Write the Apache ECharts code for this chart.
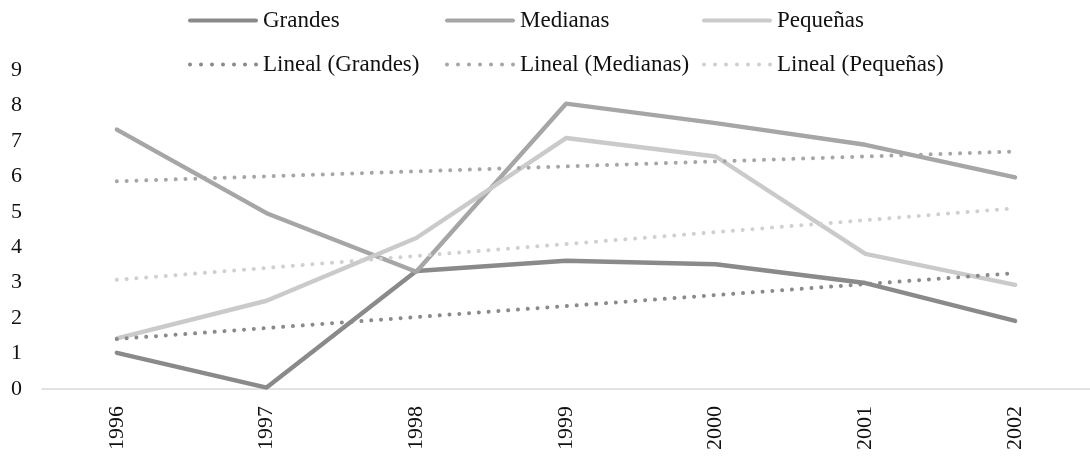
<!DOCTYPE html>
<html>
<head>
<meta charset="utf-8">
<script src="https://cdn.jsdelivr.net/npm/echarts@6/dist/echarts.min.js"></script>
<style>
  html, body { margin: 0; padding: 0; background: #ffffff; }
  #chart { width: 1090px; height: 457px; }
</style>
</head>
<body>
<div id="chart"></div>
<script>
// Years on the category axis
const years = ['1996', '1997', '1998', '1999', '2000', '2001', '2002'];
// Values per company size
const grandes  = [1.02, 0.04, 3.33, 3.62, 3.52, 2.99, 1.92];
const medianas = [7.32, 4.96, 3.31, 8.05, 7.50, 6.89, 5.97];
const pequenas = [1.43, 2.49, 4.26, 7.08, 6.56, 3.81, 2.94];
// Linear trend lines: value at the first and at the last year
const trendYears = ['1996', '2002'];
const trendGrandes  = [1.41, 3.27];
const trendMedianas = [5.86, 6.70];
const trendPequenas = [3.08, 5.10];
// Y axis ticks
const yTicks = [0, 1, 2, 3, 4, 5, 6, 7, 8, 9];

const FONT = '"Liberation Serif", "Times New Roman", serif';
const C_G = '#8a8a8a', C_M = '#a6a6a6', C_P = '#cacaca', C_PT = '#d0d0d0';

// Legend glyphs: a rounded bar for the data lines, a row of dots for the trend lines
const ICON_SOLID = 'path://M2,0 L68,0 A2,2 0 0 1 68,4 L2,4 A2,2 0 0 1 2,0 Z';
const ICON_DOTS = 'path://' + [0, 11, 22, 33, 44, 55, 66]
  .map(x => `M${x},2 a2,2 0 1,0 4,0 a2,2 0 1,0 -4,0 Z`).join(' ');

function solid(name, data, color) {
  return {
    name, type: 'line', data, symbol: 'none', z: 2,
    lineStyle: { color, width: 4.4, cap: 'round', join: 'round' },
    itemStyle: { color }
  };
}
function trend(name, vals, color) {
  return {
    name, type: 'line', symbol: 'none', z: 3,
    data: trendYears.map((y, i) => [y, vals[i]]),
    lineStyle: { color, width: 4, type: [0.01, 9.8], cap: 'round' },
    itemStyle: { color }
  };
}

function legendCol(left, names) {
  return {
    orient: 'vertical', left, top: 4,
    itemWidth: 70, itemHeight: 4, itemGap: 21,
    itemStyle: { borderWidth: 0 },
    lineStyle: { width: 0 },
    textStyle: { fontFamily: FONT, fontSize: 23, color: '#111', lineHeight: 23, padding: [0, 0, 0, 0] },
    data: [
      { name: names[0], icon: ICON_SOLID },
      { name: names[1], icon: ICON_DOTS }
    ]
  };
}

const chart = echarts.init(document.getElementById('chart'), null, { renderer: 'canvas' });
chart.setOption({
  animation: false,
  backgroundColor: '#ffffff',
  legend: [
    legendCol(183, ['Grandes', 'Lineal (Grandes)']),
    legendCol(440, ['Medianas', 'Lineal (Medianas)']),
    legendCol(697, ['Pequeñas', 'Lineal (Pequeñas)'])
  ],
  grid: { left: 42, top: 70, width: 1056, bottom: 68, containLabel: false },
  xAxis: {
    type: 'category', data: years, boundaryGap: true,
    axisLine: { lineStyle: { color: '#d9d9d9', width: 1.5 } },
    axisTick: { show: false },
    axisLabel: { rotate: 90, margin: 17, fontFamily: FONT, fontSize: 22, color: '#111' }
  },
  yAxis: {
    type: 'value', min: yTicks[0], max: yTicks[yTicks.length - 1], interval: 1,
    axisLine: { show: false }, axisTick: { show: false },
    splitLine: { show: false },
    axisLabel: { margin: 20, fontFamily: FONT, fontSize: 22, color: '#111',
      formatter: v => String(v) }
  },
  series: [
    solid('Grandes', grandes, C_G),
    solid('Medianas', medianas, C_M),
    solid('Pequeñas', pequenas, C_P),
    trend('Lineal (Grandes)', trendGrandes, C_G),
    trend('Lineal (Medianas)', trendMedianas, C_M),
    trend('Lineal (Pequeñas)', trendPequenas, C_PT)
  ]
});
</script>
</body>
</html>
